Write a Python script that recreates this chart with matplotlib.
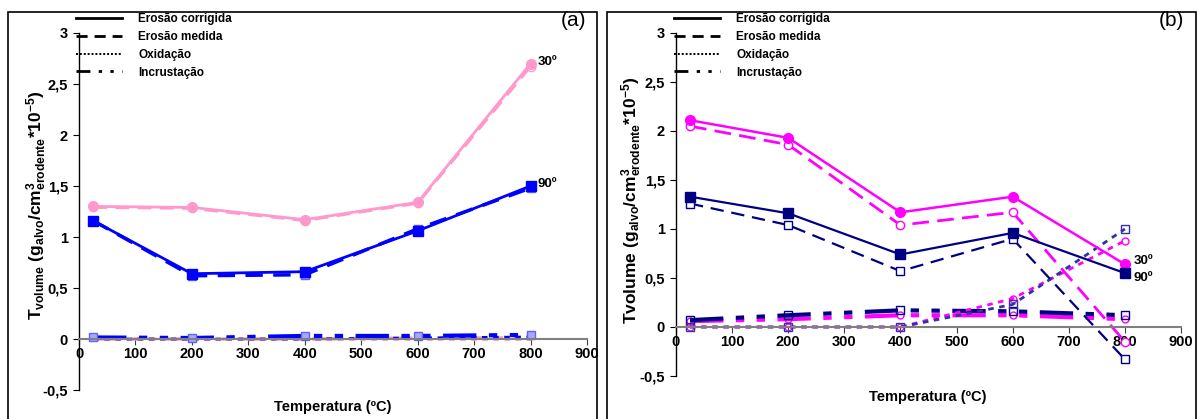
import matplotlib
matplotlib.use("Agg")
import matplotlib.pyplot as plt
from matplotlib.lines import Line2D
from matplotlib.patches import Rectangle

plt.rcParams['font.family'] = ['Liberation Sans', 'DejaVu Sans']
plt.rcParams['mathtext.fontset'] = 'custom'
plt.rcParams['mathtext.rm'] = 'Liberation Sans:bold'
plt.rcParams['mathtext.it'] = 'Liberation Sans:bold'
plt.rcParams['mathtext.bf'] = 'Liberation Sans:bold'

# ---- data ----
temps = [25, 200, 400, 600, 800]
xticks = [0, 100, 200, 300, 400, 500, 600, 700, 800, 900]
yticks = [-0.5, 0, 0.5, 1, 1.5, 2, 2.5, 3]
ytick_labels = ['-0,5', '0', '0,5', '1', '1,5', '2', '2,5', '3']
legend_labels = ['Erosão corrigida', 'Erosão medida', 'Oxidação', 'Incrustação']

# panel (a)
a30_corr = [1.30, 1.29, 1.17, 1.34, 2.70]
a30_med = [1.29, 1.28, 1.16, 1.33, 2.67]
a30_oxi = [0.00, 0.00, 0.00, 0.00, 0.00]
a30_inc = [0.00, 0.00, 0.00, 0.01, 0.01]
a90_corr = [1.16, 0.64, 0.66, 1.06, 1.50]
a90_med = [1.16, 0.62, 0.63, 1.08, 1.48]
a90_oxi = [0.00, 0.00, 0.00, 0.01, 0.02]
a90_inc = [0.015, 0.01, 0.03, 0.03, 0.04]

# panel (b)
b30_corr = [2.11, 1.93, 1.17, 1.33, 0.64]
b30_med = [2.05, 1.86, 1.04, 1.17, -0.15]
b30_oxi = [0.00, 0.00, 0.00, 0.29, 0.88]
b30_inc = [0.06, 0.08, 0.12, 0.12, 0.08]
b90_corr = [1.33, 1.16, 0.74, 0.96, 0.55]
b90_med = [1.26, 1.04, 0.57, 0.90, -0.33]
b90_oxi = [0.00, 0.00, 0.00, 0.23, 1.00]
b90_inc = [0.07, 0.12, 0.17, 0.16, 0.12]

W, H = 1197, 419
fig = plt.figure(figsize=(W / 100, H / 100), dpi=100)

inc_style = (0, (8, 3, 2, 3, 2, 3))
oxi_style = (0, (2, 2))

def px_axes(x0, x1, ytop, ybot):
    return fig.add_axes([x0 / W, 1 - ybot / H, (x1 - x0) / W, (ybot - ytop) / H])

def style_axes(ax):
    ax.set_xlim(0, 900)
    ax.set_ylim(-0.5, 3)
    ax.spines['top'].set_visible(False)
    ax.spines['right'].set_visible(False)
    ax.spines['bottom'].set_position(('data', 0))
    ax.spines['bottom'].set_color('#808080')
    ax.spines['bottom'].set_linewidth(1.5)
    ax.spines['left'].set_linewidth(1.0)
    ax.set_xticks(xticks)
    ax.set_yticks(yticks)
    ax.set_yticklabels(ytick_labels)
    ax.tick_params(axis='both', direction='out', length=4, labelsize=10.5)
    ax.tick_params(axis='x', color='#404040', pad=2)
    ax.tick_params(axis='y', pad=4)
    for lab in ax.get_xticklabels() + ax.get_yticklabels():
        lab.set_fontweight('bold')
    ax.patch.set_alpha(0)
    handles = [Line2D([], [], color='black', lw=2, ls='-'),
               Line2D([], [], color='black', lw=2, ls=(0, (4, 2.5))),
               Line2D([], [], color='black', lw=1.4, ls=(0, (1, 1))),
               Line2D([], [], color='black', lw=2, ls=(0, (5, 3, 1.2, 3, 1.2, 3)))]
    return handles

def add_legend(ax, handles, xpx):
    ax.legend(handles, legend_labels, loc='upper left', frameon=False,
              bbox_to_anchor=(xpx / W, 1 - 7 / H), bbox_transform=fig.transFigure,
              borderpad=0, handlelength=3.9, handletextpad=1.4, labelspacing=0.5,
              prop={'size': 8.5, 'weight': 'bold'})

# ---- panel (a) ----
axa = px_axes(79, 587, 33, 390)
handles = style_axes(axa)
pink = '#FF99CC'
blue = '#0000FF'
lmk_face = '#A8A8FF'
lmk_edge = '#6060FF'
axa.plot(temps, a30_oxi, color=pink, lw=2, ls=oxi_style)
axa.plot(temps, a30_inc, color=pink, lw=2.5, ls=inc_style)
axa.plot(temps, a90_oxi, color=blue, lw=2, ls=oxi_style)
axa.plot(temps, a90_inc, color=blue, lw=3, ls=inc_style, marker='s', ms=6,
         mfc=lmk_face, mec=lmk_edge)
axa.plot(temps, a30_med, color=pink, lw=2, ls=(0, (5, 3)), marker='o', ms=6,
         mfc='white', mec=pink)
axa.plot(temps, a30_corr, color=pink, lw=2, marker='o', ms=7)
axa.plot(temps, a90_med, color=blue, lw=2.5, ls=(0, (5, 3)), marker='s', ms=6,
         mfc=lmk_face, mec=lmk_edge)
axa.plot(temps, a90_corr, color=blue, lw=2, marker='s', ms=7)
axa.text(812, 2.72, '30º', fontsize=9.5, fontweight='bold', va='center')
axa.text(812, 1.52, '90º', fontsize=9.5, fontweight='bold', va='center')
add_legend(axa, handles, 70)
fig.text(333 / W, 1 - 407 / H, 'Temperatura (ºC)', ha='center', va='center',
         fontsize=10.5, fontweight='bold')
fig.text(37 / W, 1 - 205 / H,
         r'$\mathregular{T_{volume}\ (g_{alvo}/cm^{3}_{erodente}{*}10^{-5})}$',
         rotation=90, ha='center', va='center', fontsize=12.5, fontweight='bold')
fig.text(586 / W, 1 - 21 / H, '(a)', ha='right', va='center', fontsize=15)

# ---- panel (b) ----
axb = px_axes(676, 1181, 33, 376)
handles = style_axes(axb)
mag = '#FF00FF'
navy = '#000080'
oxi_navy = '#3333A0'
axb.plot(temps, b30_inc, color=mag, lw=3, ls=inc_style, marker='o', ms=5,
         mfc='none', mec=mag)
axb.plot(temps, b90_inc, color=navy, lw=3, ls=inc_style, marker='s', ms=6,
         mfc='none', mec=navy)
axb.plot(temps, b30_oxi, color=mag, lw=2, ls=oxi_style, marker='o', ms=5,
         mfc='none', mec=mag)
axb.plot(temps, b90_oxi, color=oxi_navy, lw=2, ls=oxi_style, marker='s', ms=6,
         mfc='none', mec=oxi_navy)
axb.plot(temps, b30_med, color=mag, lw=2, ls=(0, (6, 3)), marker='o', ms=6,
         mfc='white', mec=mag)
axb.plot(temps, b90_med, color=navy, lw=1.6, ls=(0, (6, 3.5)), marker='s', ms=6,
         mfc='white', mec=navy)
axb.plot(temps, b30_corr, color=mag, lw=1.8, marker='o', ms=7)
axb.plot(temps, b90_corr, color=navy, lw=1.6, marker='s', ms=7)
axb.text(815, 0.67, '30º', fontsize=9.5, fontweight='bold', va='center')
axb.text(815, 0.50, '90º', fontsize=9.5, fontweight='bold', va='center')
add_legend(axb, handles, 668)
fig.text(928 / W, 1 - 397 / H, 'Temperatura (ºC)', ha='center', va='center',
         fontsize=10.5, fontweight='bold')
fig.text(632 / W, 1 - 200 / H,
         r'$\mathregular{Tvolume\ (g_{alvo}/cm^{3}_{erodente}{*}10^{-5})}$',
         rotation=90, ha='center', va='center', fontsize=12.5, fontweight='bold')
fig.text(1184 / W, 1 - 21 / H, '(b)', ha='right', va='center', fontsize=15)

# panel borders
for x0, x1 in [(8, 597), (607, 1196)]:
    fig.add_artist(Rectangle((x0 / W, -0.01), (x1 - x0) / W, 1 - 12 / H + 0.01,
                             transform=fig.transFigure, fill=False,
                             edgecolor='black', lw=1.2))

fig.savefig('out.png', dpi=100)
